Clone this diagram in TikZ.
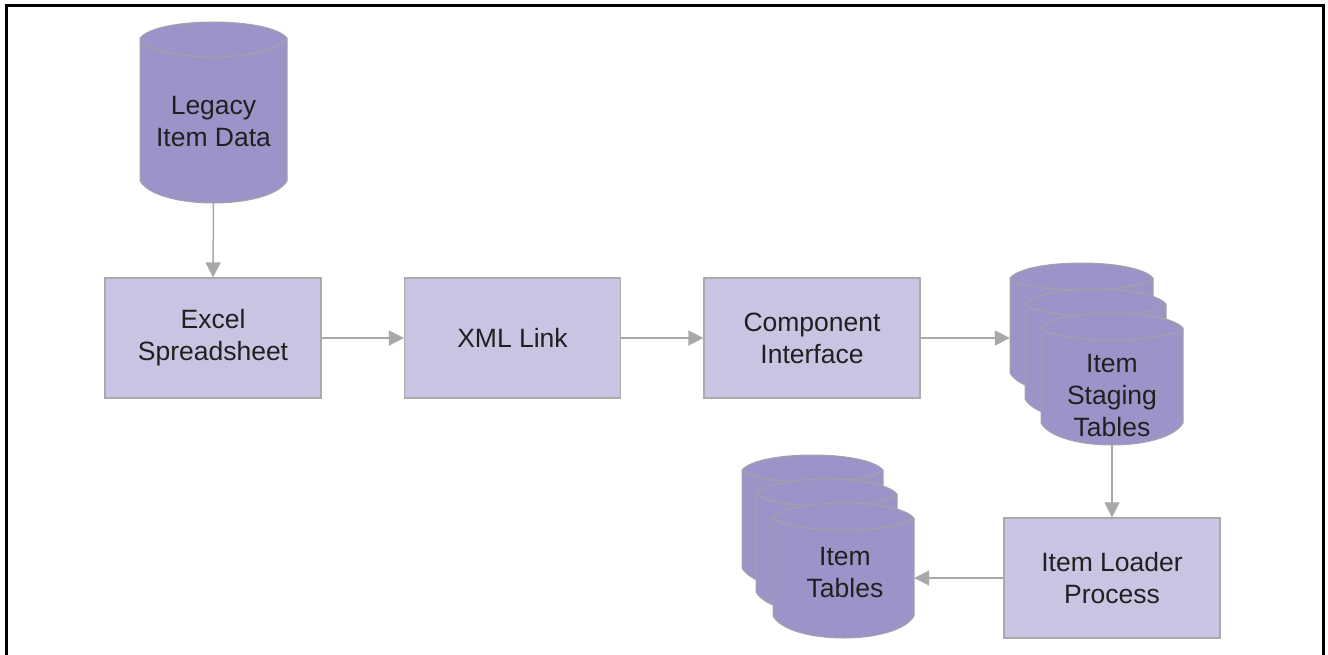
\documentclass[tikz,border=0pt]{standalone}
\usepackage{fontspec}
\setmainfont{Liberation Sans}
\usetikzlibrary{arrows.meta,calc}
\definecolor{boxfill}{HTML}{C8C4E2}
\definecolor{boxline}{HTML}{A9A9AE}
\definecolor{cylfill}{HTML}{9C94C8}
\definecolor{cylline}{HTML}{A3A3A8}
\definecolor{arrowgray}{HTML}{A8A8AB}
\definecolor{txt}{HTML}{231F20}
\tikzset{
  procbox/.style={draw=boxline, line width=1.2pt, fill=boxfill, minimum width=216pt, minimum height=120pt, inner sep=0pt, align=center, text=txt, font=\fontsize{26.5}{32}\selectfont},
  cylbody/.style={fill=cylfill, draw=cylline, line width=1pt},
  cylfront/.style={draw=cylline, line width=1pt},
  cyltext/.style={align=center, text=txt, inner sep=0pt, font=\fontsize{26.5}{32}\selectfont},
  flow/.style={draw=arrowgray, line width=1.5pt, -{Triangle[length=15pt,width=15pt]}},
  frameline/.style={draw=black, line width=3pt}
}
% name, xl, xr, ytop, ybot, corner offset, front dip
\newcommand\dbcyl[7]{%
  \pgfmathsetmacro\qya{#4+#6}%
  \pgfmathsetmacro\qyu{#4+#6-4*#6/3}%
  \pgfmathsetmacro\qyf{#4+#6+4*#7/3}%
  \pgfmathsetmacro\qyb{#5-22}%
  \pgfmathsetmacro\qyl{#5-22+4*22/3}%
  \pgfmathsetmacro\qxa{#2+0.12*(#3-#2)}%
  \pgfmathsetmacro\qxb{#3-0.12*(#3-#2)}%
  \path[cylbody] (#2,\qya) -- (#2,\qyb) .. controls (\qxa,\qyl) and (\qxb,\qyl) .. (#3,\qyb) -- (#3,\qya) .. controls (\qxb,\qyu) and (\qxa,\qyu) .. cycle;
  \draw[cylfront] (#2,\qya) .. controls (\qxa,\qyf) and (\qxb,\qyf) .. (#3,\qya);
  \pgfmathsetmacro\qw{#3-#2}%
  \pgfmathsetmacro\qh{#5-#4}%
  \node[inner sep=0pt, minimum width=\qw pt, minimum height=\qh pt] (#1) at ({(#2+#3)/2},{(#4+#5)/2}) {};
}
\begin{document}
\begin{tikzpicture}[x=1pt,y=-1pt]
\useasboundingbox (0,0) rectangle (1328,655);
% frame (open at the bottom)
\draw[frameline] (6,655) -- (6,6) -- (1323,6) -- (1323,655);

% legacy data
\dbcyl{legacy}{140}{287}{22}{203}{16}{19}
\node[cyltext] (legacytxt) at (213.5,122) {Legacy\\Item Data};

% process boxes
\node[procbox] (excel) at (213,338) {Excel\\Spreadsheet};
\node[procbox] (xml) at (512.5,338) {XML Link};
\node[procbox] (ci) at (812,338) {Component\\Interface};
\node[procbox] (loader) at (1112,578) {Item Loader\\Process};

% staging tables stack
\dbcyl{stageback}{1010}{1153}{263}{395}{15}{12}
\dbcyl{stagemid}{1025}{1166}{289}{421}{15}{12}
\dbcyl{stagefront}{1041}{1183}{313}{445}{15}{12}
\node[cyltext] (stagetxt) at (1112,396) {Item\\Staging\\Tables};

% item tables stack
\dbcyl{tabback}{742}{883}{455}{590}{15}{12}
\dbcyl{tabmid}{756}{897}{479}{614}{15}{12}
\dbcyl{tabfront}{773}{914}{503}{638}{15}{12}
\node[cyltext] (tabtxt) at (845,573) {Item\\Tables};

% connectors
\draw[flow] (legacy.south) -- (excel.north);
\draw[flow] (excel.east) -- (xml.west);
\draw[flow] (xml.east) -- (ci.west);
\draw[flow] (ci.east) -- (ci.east -| stageback.west);
\draw[flow] (stagefront.south) -- (stagefront.south |- loader.north);
\draw[flow] (loader.west) -- (loader.west -| tabfront.east);
\end{tikzpicture}
\end{document}
